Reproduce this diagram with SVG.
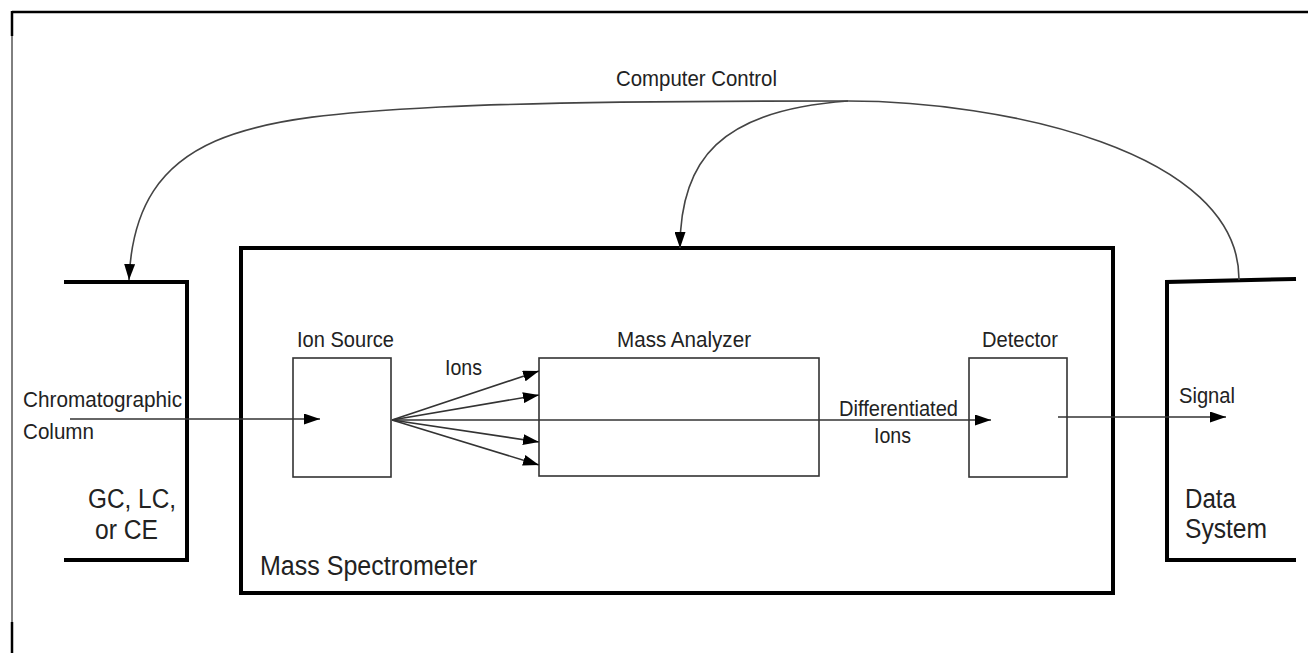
<svg xmlns="http://www.w3.org/2000/svg" width="1308" height="653" viewBox="0 0 1308 653">
  <style>
    .frame { fill: none; stroke: #000; }
    .bracket { fill: none; stroke: #000; stroke-width: 4; stroke-linecap: square; stroke-linejoin: miter; }
    .box { fill: none; stroke: #333; stroke-width: 1.6; }
    .wire { fill: none; stroke: #333; stroke-width: 1.6; }
    .ctl { fill: none; stroke: #444; stroke-width: 1.6; }
    .lbl { font-family: "Liberation Sans", Arial, Helvetica, sans-serif; font-size: 22px; fill: #222; }
    .big { font-family: "Liberation Sans", Arial, Helvetica, sans-serif; font-size: 27px; fill: #222; }
  </style>
  <defs>
    <marker id="arrow" markerUnits="userSpaceOnUse" markerWidth="16" markerHeight="11" refX="16" refY="5.5" orient="auto">
      <path d="M0,0 L16,5.5 L0,11 z" fill="#000"/>
    </marker>
  </defs>

  <rect width="1308" height="653" fill="#fff"/>

  <!-- page frame -->
  <g id="frame">
    <line class="frame" x1="12" y1="12" x2="1308" y2="12" stroke-width="2.5"/>
    <line class="frame" x1="12" y1="11" x2="12" y2="36" stroke-width="2.5"/>
    <line class="frame" x1="12" y1="36" x2="12" y2="622" stroke-width="1" stroke="#555"/>
    <line class="frame" x1="12" y1="622" x2="12" y2="653" stroke-width="2.5"/>
  </g>

  <!-- chromatograph -->
  <g id="chromatograph">
    <polyline class="bracket" points="66,282 187,282 187,560 66,560"/>
    <text class="big" x="88" y="508" textLength="88" lengthAdjust="spacingAndGlyphs">GC, LC,</text>
    <text class="big" x="95" y="539" textLength="63" lengthAdjust="spacingAndGlyphs">or CE</text>
  </g>

  <!-- mass spectrometer enclosure -->
  <g id="mass-spectrometer">
    <rect x="241" y="248" width="872" height="345" fill="none" stroke="#000" stroke-width="4"/>
    <text class="big" x="260" y="575" textLength="217" lengthAdjust="spacingAndGlyphs">Mass Spectrometer</text>
  </g>

  <!-- data system -->
  <g id="data-system">
    <polyline class="bracket" points="1294,279 1167,282 1167,560 1294,560"/>
    <text class="big" x="1185" y="508" textLength="51" lengthAdjust="spacingAndGlyphs">Data</text>
    <text class="big" x="1185" y="538" textLength="82" lengthAdjust="spacingAndGlyphs">System</text>
  </g>

  <g id="ion-source">
    <rect class="box" x="293" y="358" width="98" height="119"/>
    <text class="lbl" x="297" y="347" textLength="97" lengthAdjust="spacingAndGlyphs">Ion Source</text>
  </g>

  <g id="mass-analyzer">
    <rect class="box" x="539" y="358" width="280" height="118"/>
    <text class="lbl" x="617" y="347" textLength="134" lengthAdjust="spacingAndGlyphs">Mass Analyzer</text>
  </g>

  <g id="detector">
    <rect class="box" x="969" y="358" width="98" height="119"/>
    <text class="lbl" x="982" y="347" textLength="76" lengthAdjust="spacingAndGlyphs">Detector</text>
  </g>

  <!-- connectors -->
  <g id="connectors">
    <!-- computer control lines -->
    <path class="ctl" d="M848,101 C700,101 520,103 440,107 C250,117 135,130 129,280" marker-end="url(#arrow)"/>
    <path class="ctl" d="M848,101 C720,110 680,160 680,248" marker-end="url(#arrow)"/>
    <path class="ctl" d="M848,101 C1000,101 1240,150 1239,280"/>

    <!-- sample flow -->
    <line class="wire" x1="70" y1="419" x2="320" y2="419" marker-end="url(#arrow)"/>

    <!-- ion fan into analyzer -->
    <line class="wire" x1="392" y1="420" x2="539" y2="371" marker-end="url(#arrow)"/>
    <line class="wire" x1="392" y1="420" x2="539" y2="395" marker-end="url(#arrow)"/>
    <line class="wire" x1="392" y1="420" x2="539" y2="442" marker-end="url(#arrow)"/>
    <line class="wire" x1="392" y1="420" x2="539" y2="465" marker-end="url(#arrow)"/>

    <!-- differentiated ions to detector -->
    <line class="wire" x1="392" y1="420" x2="991" y2="420" marker-end="url(#arrow)"/>

    <!-- signal out -->
    <line class="wire" x1="1058" y1="417" x2="1226" y2="417" marker-end="url(#arrow)"/>
  </g>

  <!-- connector labels -->
  <g id="labels">
    <text class="lbl" x="616" y="86" textLength="161" lengthAdjust="spacingAndGlyphs">Computer Control</text>
    <text class="lbl" x="23" y="407" textLength="159" lengthAdjust="spacingAndGlyphs">Chromatographic</text>
    <text class="lbl" x="23" y="439" textLength="71" lengthAdjust="spacingAndGlyphs">Column</text>
    <text class="lbl" x="445" y="375" textLength="37" lengthAdjust="spacingAndGlyphs">Ions</text>
    <text class="lbl" x="839" y="416" textLength="119" lengthAdjust="spacingAndGlyphs">Differentiated</text>
    <text class="lbl" x="874" y="443" textLength="37" lengthAdjust="spacingAndGlyphs">Ions</text>
    <text class="lbl" x="1179" y="403" textLength="56" lengthAdjust="spacingAndGlyphs">Signal</text>
  </g>
</svg>
